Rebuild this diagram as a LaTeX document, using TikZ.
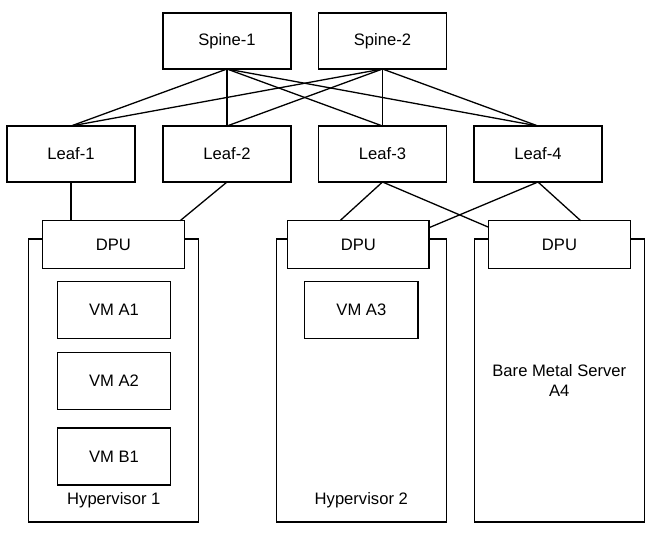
\documentclass[tikz,border=0pt]{standalone}
\usepackage{fontspec}
\setmainfont{Liberation Sans}
\begin{document}
\begin{tikzpicture}[x=1pt,y=-1pt,
  every node/.style={font=\fontsize{16.6}{20}\selectfont},
  box/.style={draw, line width=1.3pt, fill=white, inner sep=0pt, outer sep=0pt, rectangle, align=center},
  net/.style={box, minimum width=128pt, minimum height=56pt},
  dpubox/.style={box, minimum width=141.5pt, minimum height=48pt},
  vmbox/.style={box, minimum width=113.4pt, minimum height=57pt},
  hostbox/.style={box, minimum width=170pt, minimum height=283pt},
  link/.style={line width=1.3pt}]
\useasboundingbox (0,0) rectangle (658,534);
% spines and leaves
\node[net] (spine1) at (227,41) {Spine-1};
\node[net] (spine2) at (382.5,41) {Spine-2};
\node[net] (leaf1) at (71,154) {Leaf-1};
\node[net] (leaf2) at (227,154) {Leaf-2};
\node[net] (leaf3) at (382.5,154) {Leaf-3};
\node[net] (leaf4) at (538,154) {Leaf-4};
% hosts
\node[hostbox] (hyp1) at (113.8,380.6) {};
\node[hostbox] (hyp2) at (361.3,380.6) {};
\node[hostbox] (bm) at (559.3,380.6) {Bare Metal Server\\A4};
\node (hyp1lbl) at (113.8,500.5) {Hypervisor 1};
\node (hyp2lbl) at (361.3,500.5) {Hypervisor 2};
% DPUs
\node[dpubox] (dpu1) at (113.4,244.7) {DPU};
\node[dpubox] (dpu2) at (358.3,244.7) {DPU};
\node[dpubox] (dpu3) at (559.5,244.7) {DPU};
% VMs
\node[vmbox] (vma1) at (114,309.7) {VM A1};
\node[vmbox] (vma2) at (114,380.8) {VM A2};
\node[vmbox] (vmb1) at (114,456.4) {VM B1};
\node[vmbox] (vma3) at (361.4,309.7) {VM A3};
% spine-leaf mesh
\foreach \s in {spine1,spine2}
  \foreach \l in {leaf1,leaf2,leaf3,leaf4}
    \draw[link] (\s.south) -- (\l.north);
% leaf to DPU
\draw[link] (leaf1.south) -- (leaf1.south |- dpu1.north);
\draw[link] (leaf2.south) -- ([xshift=-4pt]dpu1.north east);
\draw[link] (leaf3.south) -- ([xshift=-18.3pt]dpu2.north);
\draw[link] (leaf3.south) -- ([yshift=-6.6pt]dpu3.north west);
\draw[link] (leaf4.south) -- ([yshift=-7pt]dpu2.north east);
\draw[link] (leaf4.south) -- ([xshift=21.2pt]dpu3.north);
\end{tikzpicture}
\end{document}
